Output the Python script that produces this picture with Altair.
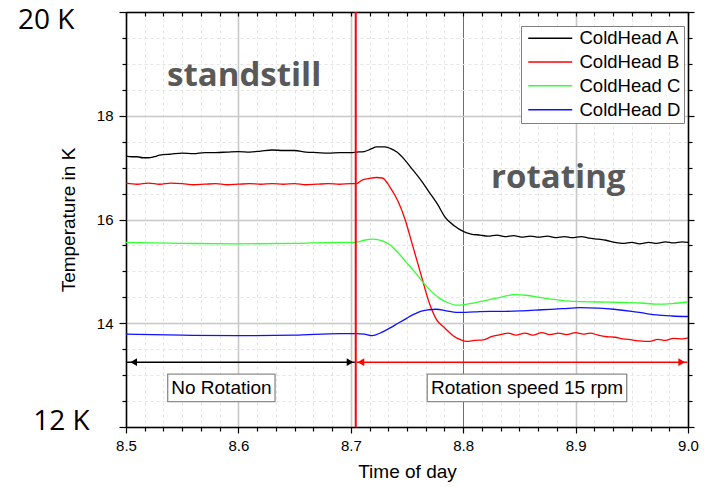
import altair as alt
import pandas as pd

# ---------------- series data (time of day in h, temperature in K) ----------------
tA = [8.500, 8.505, 8.510, 8.515, 8.520, 8.525, 8.530, 8.540, 8.550, 8.560, 8.570, 8.580,
      8.590, 8.600, 8.610, 8.620, 8.630, 8.640, 8.650, 8.660, 8.670, 8.680, 8.690, 8.700,
      8.705, 8.712, 8.718, 8.723, 8.730, 8.735, 8.741, 8.748, 8.755, 8.762, 8.770, 8.777,
      8.784, 8.792, 8.800, 8.807, 8.815, 8.822, 8.830, 8.837, 8.845, 8.852, 8.860, 8.867,
      8.875, 8.882, 8.890, 8.897, 8.905, 8.912, 8.920, 8.927, 8.935, 8.942, 8.950, 8.957,
      8.965, 8.972, 8.980, 8.987, 8.995, 9.000]
vA = [17.22, 17.21, 17.21, 17.19, 17.19, 17.21, 17.24, 17.26, 17.28, 17.27, 17.29, 17.29,
      17.30, 17.31, 17.30, 17.32, 17.34, 17.33, 17.33, 17.30, 17.29, 17.28, 17.29, 17.29,
      17.30, 17.31, 17.36, 17.40, 17.40, 17.37, 17.30, 17.15, 16.96, 16.77, 16.52, 16.30,
      16.04, 15.88, 15.77, 15.72, 15.70, 15.68, 15.70, 15.67, 15.69, 15.66, 15.68, 15.66,
      15.68, 15.65, 15.67, 15.65, 15.67, 15.64, 15.62, 15.60, 15.56, 15.54, 15.56, 15.53,
      15.56, 15.54, 15.57, 15.55, 15.57, 15.56]

tB = [8.500, 8.510, 8.520, 8.530, 8.540, 8.550, 8.560, 8.570, 8.580, 8.590, 8.600, 8.610,
      8.620, 8.630, 8.640, 8.650, 8.660, 8.670, 8.680, 8.690, 8.700, 8.705, 8.710, 8.716,
      8.723, 8.728, 8.735, 8.742, 8.748, 8.755, 8.762, 8.770, 8.776, 8.784, 8.791, 8.798,
      8.803, 8.810, 8.818, 8.825, 8.833, 8.840, 8.847, 8.855, 8.862, 8.870, 8.877, 8.885,
      8.892, 8.900, 8.907, 8.913, 8.920, 8.928, 8.935, 8.942, 8.950, 8.957, 8.966, 8.973,
      8.980, 8.987, 8.995, 9.000]
vB = [16.70, 16.68, 16.70, 16.68, 16.70, 16.69, 16.67, 16.68, 16.69, 16.67, 16.68, 16.69,
      16.68, 16.69, 16.68, 16.69, 16.67, 16.68, 16.69, 16.68, 16.69, 16.69, 16.76, 16.79,
      16.81, 16.80, 16.62, 16.35, 16.02, 15.50, 14.97, 14.38, 14.08, 13.90, 13.76, 13.68,
      13.65, 13.67, 13.68, 13.74, 13.78, 13.81, 13.77, 13.81, 13.77, 13.82, 13.78, 13.81,
      13.78, 13.82, 13.79, 13.81, 13.77, 13.74, 13.73, 13.70, 13.68, 13.66, 13.65, 13.69,
      13.67, 13.71, 13.70, 13.72]

tC = [8.500, 8.550, 8.600, 8.650, 8.690, 8.705, 8.712, 8.720, 8.728, 8.735, 8.742, 8.750,
      8.758, 8.765, 8.772, 8.779, 8.786, 8.794, 8.801, 8.809, 8.816, 8.824, 8.835, 8.845,
      8.856, 8.868, 8.880, 8.898, 8.920, 8.942, 8.958, 8.972, 8.986, 9.000]
vC = [15.56, 15.54, 15.53, 15.54, 15.56, 15.56, 15.60, 15.62, 15.59, 15.51, 15.36, 15.16,
      14.96, 14.77, 14.61, 14.48, 14.40, 14.35, 14.36, 14.39, 14.42, 14.46, 14.51, 14.55,
      14.54, 14.50, 14.46, 14.42, 14.41, 14.40, 14.39, 14.37, 14.38, 14.41]

tD = [8.500, 8.550, 8.600, 8.650, 8.690, 8.705, 8.712, 8.719, 8.727, 8.735, 8.742, 8.750,
      8.756, 8.762, 8.769, 8.776, 8.785, 8.794, 8.810, 8.824, 8.838, 8.853, 8.870, 8.888,
      8.904, 8.920, 8.934, 8.950, 8.962, 8.972, 8.986, 9.000]
vD = [13.79, 13.77, 13.76, 13.77, 13.80, 13.80, 13.79, 13.76, 13.82, 13.91, 14.00, 14.10,
      14.17, 14.23, 14.26, 14.27, 14.24, 14.21, 14.22, 14.23, 14.23, 14.24, 14.26, 14.28,
      14.30, 14.29, 14.27, 14.23, 14.19, 14.16, 14.14, 14.13]

series_names = ["ColdHead A", "ColdHead B", "ColdHead C", "ColdHead D"]
series_colors = ["#000000", "#ff0000", "#33ff33", "#1010ff"]

# ---------------- annotations ----------------
switch_time = [8.7044]                       # start of rotation (red vertical line)
arrow_level = 13.25
arrow_x1 = [8.5005, 8.7052]
arrow_x2 = [8.7035, 8.9995]
arrow_colors = ["black", "red"]
head_x = [8.5068, 8.6993, 8.7090, 8.9944]
head_shape = ["triangle-left", "triangle-right", "triangle-left", "triangle-right"]
head_color = ["black", "black", "red", "red"]

box_text = ["No Rotation", "Rotation speed 15 rpm"]
box_x1 = [8.5371, 8.7680]
box_x2 = [8.6326, 8.9455]
box_y1 = [12.49, 12.49]
box_y2 = [13.02, 13.02]
box_tx = [8.5849, 8.8568]
box_ty = [12.755, 12.755]

big_text = ["standstill", "rotating"]
big_x = [8.6051, 8.8846]
big_y = [18.573, 16.607]

corner_text = ["20 K", "12 K"]
corner_x = [8.4039, 8.4175]
corner_y = [19.665, 11.942]

x_ticks = [round(8.5 + k / 60, 6) for k in range(31)]
y_ticks = [12 + 0.5 * k for k in range(17)]

for a, b in [(tA, vA), (tB, vB), (tC, vC), (tD, vD)]:
    assert len(a) == len(b)

rows = []
for name, ts, vs in zip(series_names, [tA, tB, tC, tD], [vA, vB, vC, vD]):
    for t, v in zip(ts, vs):
        rows.append({"t": t, "T": v, "s": name})
df = pd.DataFrame(rows)

FONT = "Liberation Sans"
XS = alt.Scale(domain=[8.5, 9.0], nice=False, zero=False)
YS = alt.Scale(domain=[12, 20], nice=False, zero=False)

MAJ_X = "abs(datum.value * 10 - round(datum.value * 10)) < 0.001"
IS_88 = "abs(datum.value - 8.8) < 0.001"
MAJ_Y = "abs(datum.value / 2 - round(datum.value / 2)) < 0.001"

x_axis = alt.Axis(
    orient="bottom", values=x_ticks, title="Time of day",
    labelExpr=f"({MAJ_X}) ? format(datum.value, '.1f') : ''",
    labelFont=FONT, labelFontSize=15, labelColor="black", labelPadding=5,
    labelOverlap=False, labelFlush=False,
    titleFont=FONT, titleFontSize=19, titleFontWeight="normal", titleColor="black",
    titlePadding=9,
    domainColor="black", domainWidth=1.5,
    tickColor="black", tickWidth=1.2,
    tickSize={"condition": {"test": MAJ_X, "value": 6}, "value": 4},
    grid=True,
    gridColor={"condition": [{"test": IS_88, "value": "#6e6e6e"},
                             {"test": MAJ_X, "value": "#c8c8c8"}], "value": "#e4e4e4"},
    gridWidth={"condition": [{"test": IS_88, "value": 1},
                             {"test": MAJ_X, "value": 1.6}], "value": 1},
    gridDash={"condition": {"test": MAJ_X, "value": []}, "value": [3, 3]},
)

y_axis = alt.Axis(
    orient="left", values=y_ticks, title="Temperature in K",
    labelExpr="(datum.value == 14 || datum.value == 16 || datum.value == 18) ? format(datum.value, 'd') : ''",
    labelFont=FONT, labelFontSize=15, labelColor="black", labelPadding=6,
    labelOverlap=False, labelFlush=False,
    titleFont=FONT, titleFontSize=19, titleFontWeight="normal", titleColor="black",
    titlePadding=18,
    domainColor="black", domainWidth=1.5,
    tickColor="black", tickWidth=1.2,
    tickSize={"condition": {"test": MAJ_Y, "value": 7}, "value": 4},
    grid=True,
    gridColor={"condition": {"test": MAJ_Y, "value": "#c8c8c8"}, "value": "#e4e4e4"},
    gridWidth={"condition": {"test": MAJ_Y, "value": 1.6}, "value": 1},
    gridDash={"condition": {"test": MAJ_Y, "value": []}, "value": [3, 3]},
)

X = lambda f: alt.X(f, type="quantitative", scale=XS, axis=x_axis)
Y = lambda f: alt.Y(f, type="quantitative", scale=YS, axis=y_axis)

lines = alt.Chart(df).mark_line(strokeWidth=1.3, interpolate="monotone").encode(
    x=X("t"), y=Y("T"),
    color=alt.Color("s:N", scale=alt.Scale(domain=series_names, range=series_colors),
                    legend=alt.Legend(
                        orient="none", legendX=395, legendY=14, title=None,
                        labelFont=FONT, labelFontSize=18.5, labelColor="black",
                        symbolType="M-1,0H7.8", symbolSize=100, symbolStrokeWidth=1.5,
                        labelOffset=37, rowPadding=4.8, padding=3,
                        strokeColor="#808080", fillColor="white", labelLimit=250)),
    order=alt.Order("t:Q"),
)

vline = alt.Chart(pd.DataFrame({"t": switch_time})).mark_rule(
    color="red", strokeWidth=2).encode(x=X("t"))

arrows_df = pd.DataFrame({"x1": arrow_x1, "x2": arrow_x2,
                          "y": [arrow_level] * len(arrow_x1), "c": arrow_colors})
arrows = alt.Chart(arrows_df).mark_rule(strokeWidth=1.5).encode(
    x=X("x1"), x2="x2", y=Y("y"), color=alt.Color("c:N", scale=None, legend=None))

heads_df = pd.DataFrame({"x": head_x, "y": [arrow_level] * len(head_x),
                         "shape": head_shape, "c": head_color})
heads = alt.Chart(heads_df).mark_point(filled=True, opacity=1, size=60).encode(
    x=X("x"), y=Y("y"),
    shape=alt.Shape("shape:N", scale=None, legend=None),
    color=alt.Color("c:N", scale=None, legend=None))

boxes_df = pd.DataFrame({"x1": box_x1, "x2": box_x2, "y1": box_y1, "y2": box_y2,
                         "tx": box_tx, "ty": box_ty, "label": box_text})
boxes = alt.Chart(boxes_df).mark_rect(fill="white", stroke="#8c8c8c", strokeWidth=1.3).encode(
    x=X("x1"), x2="x2", y=Y("y1"), y2="y2")
box_labels = alt.Chart(boxes_df).mark_text(
    font=FONT, fontSize=19, color="black", baseline="middle", align="center").encode(
    x=X("tx"), y=Y("ty"), text="label:N")

big_df = pd.DataFrame({"x": big_x, "y": big_y, "label": big_text})
big = alt.Chart(big_df).mark_text(
    font="Open Sans", fontSize=33, fontWeight="bold", color="#595959",
    baseline="alphabetic", align="center").encode(x=X("x"), y=Y("y"), text="label:N")

corner_df = pd.DataFrame({"x": corner_x, "y": corner_y, "label": corner_text})
corner = alt.Chart(corner_df).mark_text(
    font="Open Sans", fontSize=28, color="black",
    baseline="alphabetic", align="left").encode(x=X("x"), y=Y("y"), text="label:N")

inner = alt.layer(lines, vline, arrows, heads, boxes, box_labels, big, corner)

# mirrored axes (top / right) carrying only ticks and the frame
top_axis = alt.Axis(orient="top", values=x_ticks, labels=False, title=None, grid=False,
                    domainColor="black", domainWidth=1.5, tickColor="black", tickWidth=1.2,
                    tickSize={"expr": "-4"})
right_axis = alt.Axis(orient="right", values=y_ticks, labels=False, title=None, grid=False,
                      domainColor="black", domainWidth=1.5, tickColor="black", tickWidth=1.2,
                      tickSize={"condition": {"test": MAJ_Y, "value": 6}, "value": 4})
frame = alt.Chart(pd.DataFrame({"t": [8.5], "T": [12]})).mark_point(opacity=0).encode(
    x=alt.X("t:Q", scale=XS, axis=top_axis),
    y=alt.Y("T:Q", scale=YS, axis=right_axis))

chart = alt.layer(inner, frame).resolve_scale(x="independent", y="independent").properties(
    width=562, height=415,
    padding={"left": 126, "top": 12, "right": 21, "bottom": 60},
    autosize="none", background="white",
).configure_view(stroke=None)

chart.save("out.html", embed_options={"renderer": "svg", "actions": False})
